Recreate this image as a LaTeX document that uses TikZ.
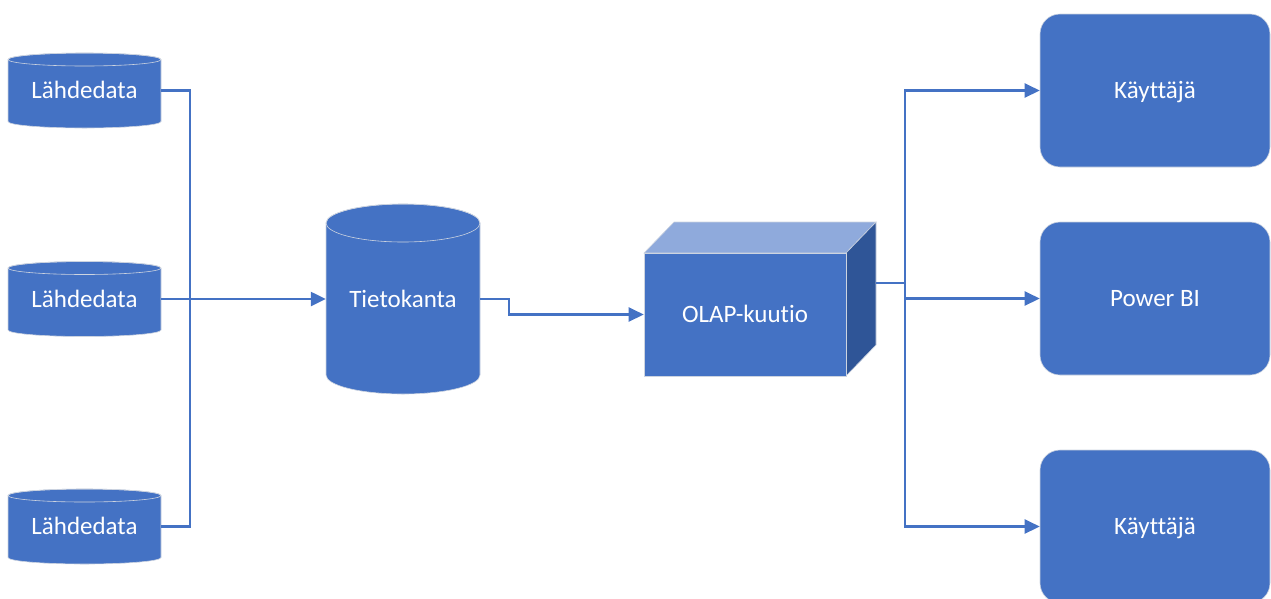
\documentclass[tikz,border=0pt]{standalone}
\usepackage{fontspec}
\setmainfont{Carlito}[Ligatures=NoCommon]
\usetikzlibrary{arrows.meta}

\definecolor{boxblue}{HTML}{4472C4}
\definecolor{toplight}{HTML}{8FAADC}
\definecolor{sidedark}{HTML}{2F5597}
\definecolor{rimgray}{RGB}{205,212,224}

\tikzset{
  conn/.style={draw=boxblue, line width=2.4pt},
  arrowconn/.style={conn, -{Triangle[length=15pt,width=14pt]}},
  label/.style={text=white, font=\fontsize{25}{29}\selectfont, inner sep=0pt,
    text height=20pt, text depth=4pt},
  userbox/.style={label, fill=boxblue, draw=rimgray, line width=0.6pt,
    rounded corners=20pt, minimum width=230pt, minimum height=153pt}
}

% database drum: #1 name, #2 left x, #3 right x, #4 top y, #5 bottom y, #6 rim half-height, #7 text
\newcommand{\dbdrum}[7]{%
  \pgfmathsetmacro\drumrx{(#3-#2)/2}%
  \pgfmathsetmacro\drumcx{(#2+#3)/2}%
  \pgfmathsetmacro\drumcy{(#4+#5)/2}%
  \pgfmathsetmacro\drumw{#3-#2}%
  \pgfmathsetmacro\drumh{#4-#5}%
  \filldraw[fill=boxblue, draw=rimgray, line width=0.6pt]
    (#2,#4-#6) -- (#2,#5+#6)
    arc[start angle=180, end angle=360, x radius=\drumrx, y radius=#6]
    -- (#3,#4-#6)
    arc[start angle=0, end angle=180, x radius=\drumrx, y radius=#6] -- cycle;
  \draw[rimgray, line width=0.6pt] (\drumcx,#4-#6) ellipse[x radius=\drumrx, y radius=#6];
  \node[label, minimum width=\drumw pt, minimum height=\drumh pt] (#1) at (\drumcx,\drumcy) {#7};
}

\begin{document}
\begin{tikzpicture}[x=1pt, y=1pt]
  \useasboundingbox (0,0) rectangle (1271,-598);
  \clip (0,0) rectangle (1271,-598);

  % source data stores
  \dbdrum{src1}{8}{161}{-53}{-128}{6.5}{Lähdedata}
  \dbdrum{src2}{8}{161}{-261.5}{-336.5}{6.5}{Lähdedata}
  \dbdrum{src3}{8}{161}{-489}{-564}{6.5}{Lähdedata}

  % database
  \dbdrum{db}{326}{480}{-204}{-394}{19}{Tietokanta}

  % OLAP cube
  \filldraw[fill=toplight, draw=rimgray, line width=0.6pt]
    (644,-253) -- (674,-222) -- (876,-222) -- (846,-253) -- cycle;
  \filldraw[fill=sidedark, draw=rimgray, line width=0.6pt]
    (846,-253) -- (876,-222) -- (876,-345) -- (846,-376) -- cycle;
  \node[label, fill=boxblue, draw=rimgray, line width=0.6pt,
        minimum width=202pt, minimum height=123pt] (olap) at (745,-314.5) {OLAP-kuutio};
  \coordinate (olapside) at (876,-283);

  % consumers
  \node[userbox] (user1) at (1155,-90.5) {Käyttäjä};
  \node[userbox] (pbi) at (1155,-298.5) {Power BI};
  \node[userbox] (user2) at (1155,-526.5) {Käyttäjä};

  % connectors: sources to database
  \coordinate (merge) at (190,-299);
  \draw[conn] (src1.east) -| (merge);
  \draw[conn] (src3.east) -| (merge);
  \draw[arrowconn] (src2.east) -- (src2.east -| db.west);

  % database to cube
  \draw[arrowconn] (db.east) -- ++(29,0) |- (olap.west);

  % cube to consumers
  \coordinate (hub) at (905,-283);
  \draw[conn] (olapside) -- (hub);
  \draw[arrowconn] (hub) |- (user1.west);
  \draw[arrowconn] (hub) |- (pbi.west);
  \draw[arrowconn] (hub) |- (user2.west);
\end{tikzpicture}
\end{document}
